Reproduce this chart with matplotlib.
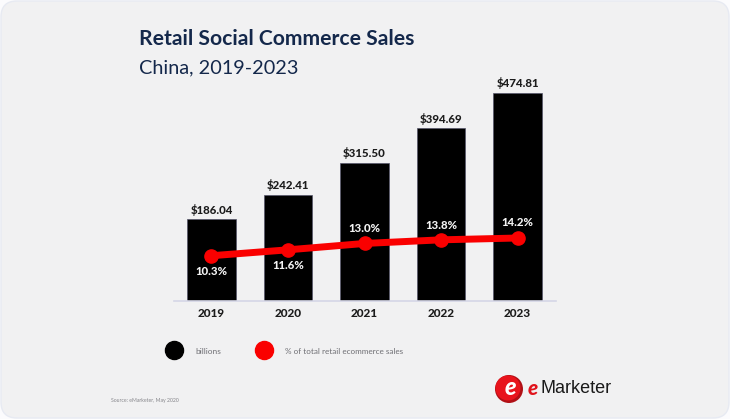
# plot.py
# Retail social commerce sales, China 2019-2023

import matplotlib
matplotlib.use('Agg')
import matplotlib.pyplot as plt
from matplotlib.lines import Line2D
from matplotlib.patches import Circle, FancyBboxPatch

W, H = 730, 419

years = ['2019', '2020', '2021', '2022', '2023']
sales = [186.04, 242.41, 315.50, 394.69, 474.81]
share = [10.3, 11.6, 13.0, 13.8, 14.2]
sales_labels = ['$186.04', '$242.41', '$315.50', '$394.69', '$474.81']
share_labels = ['10.3%', '11.6%', '13.0%', '13.8%', '14.2%']
# label goes below the line for the first two years, above for the rest (pixels)
share_offsets = [-15.5, -16, 15, 14.5, 15.5]

NAVY = '#14284b'
RED = '#fa0000'
FONT = 'Lato'

plt.rcParams['font.family'] = [FONT, 'DejaVu Sans']


def fx(px):
    return px / W


def fy(py):
    return 1 - py / H


fig = plt.figure(figsize=(W / 100, H / 100), dpi=100, facecolor='#fbfbfd')

panel = FancyBboxPatch((1, 1), W - 2, H - 2, boxstyle='round,pad=0,rounding_size=16',
                       transform=None, facecolor='#f1f1f2', edgecolor='#e7eaf2', linewidth=1,
                       zorder=-1)
fig.add_artist(panel)

# axes box in pixels: baseline at y=301, left 174, right 556
ax = fig.add_axes([fx(174), fy(301), fx(382), (301 - 60) / H])
ax.patch.set_alpha(0)
ax.bar(range(5), sales, width=0.64, color='black', edgecolor='#55556a', linewidth=0.5, zorder=2)
ax.set_xlim(-0.49, 4.503)
ax.set_ylim(0, 550)
ax.set_yticks([])
ax.set_xticks(range(5))
ax.set_xticklabels(years, fontsize=8.5, fontweight='black', color='#1c1c1c')
ax.tick_params(axis='x', length=0, pad=5)
for s in ['top', 'left', 'right']:
    ax.spines[s].set_visible(False)
ax.spines['bottom'].set_color('#d5d6e6')
ax.spines['bottom'].set_linewidth(1.2)

for i, lab in enumerate(sales_labels):
    ax.annotate(lab, (i, sales[i]), xytext=(0, 2.5), textcoords='offset points', ha='center',
                va='bottom', fontsize=8.3, fontweight='black', color='#1c1c1c')

ax2 = ax.twinx()
ax2.set_ylim(0.33, 53.4)
ax2.set_yticks([])
for s in ax2.spines.values():
    s.set_visible(False)
ax2.plot(range(5), share, color=RED, linewidth=5, marker='o', markersize=9.5, zorder=3)
for i, lab in enumerate(share_labels):
    ax2.annotate(lab, (i, share[i]), xytext=(0, share_offsets[i] * 0.72), textcoords='offset points',
                 ha='center', va='center', fontsize=8.3, fontweight='black', color='#f4f4f4')

# titles
fig.text(fx(139), fy(39), 'Retail Social Commerce Sales', fontsize=15.2, fontweight='bold',
         color=NAVY, va='center')
fig.text(fx(139), fy(68), 'China, 2019-2023', fontsize=14.3, color=NAVY, va='center')

# legend
fig.add_artist(Line2D([fx(173.5)], [fy(350)], marker='o', markersize=13, color='black',
                      linestyle='none', transform=fig.transFigure))
fig.text(fx(195), fy(351), 'billions', fontsize=6, color='#6f6f74', va='center')
fig.add_artist(Line2D([fx(263.5)], [fy(350)], marker='o', markersize=13, color=RED,
                      linestyle='none', transform=fig.transFigure))
fig.text(fx(285), fy(351), '% of total retail ecommerce sales', fontsize=5.9, color='#6f6f74', va='center')

# source
fig.text(fx(111), fy(400), 'Source: eMarketer, May 2020', fontsize=3.7, color='#85858a', va='center')

# logo
fig.add_artist(Circle((509, H - 389), 14, transform=None, facecolor='#b01016', edgecolor='none'))
fig.add_artist(Circle((508, H - 388), 12.5, transform=None, facecolor='#e8141c', edgecolor='none'))
fig.text(fx(510.5), fy(387), 'e', fontsize=17, fontweight='black', style='italic', color='white',
         ha='center', va='center')
fig.text(fx(528), fy(388), 'e', fontsize=15, fontweight='black', style='italic', color='#e0141c', va='center')
fig.text(fx(541), fy(388), 'Marketer', fontsize=13, color='#1a1a1a', va='center',
         family=['Liberation Sans', 'DejaVu Sans'])

fig.savefig('out.png', dpi=100, facecolor=fig.get_facecolor())
